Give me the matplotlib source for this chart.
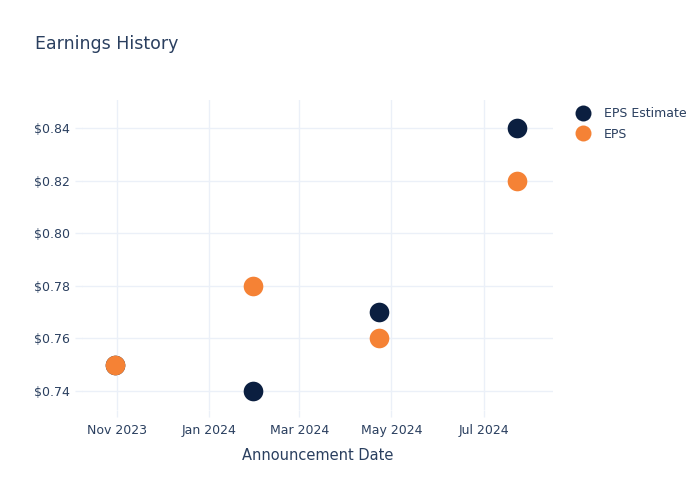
import matplotlib
matplotlib.use("Agg")
import matplotlib.pyplot as plt
import matplotlib.dates as mdates
from matplotlib.ticker import FuncFormatter
from matplotlib.lines import Line2D
import datetime as dt

dates = ["2023-10-31", "2024-01-30", "2024-04-23", "2024-07-23"]
eps_estimate = [0.75, 0.74, 0.77, 0.84]
eps_actual = [0.75, 0.78, 0.76, 0.82]
series_names = ["EPS Estimate", "EPS"]

x = [dt.datetime.strptime(d, "%Y-%m-%d") for d in dates]

TXT = "#2a3f5f"
GRID = "#ebf0f8"
NAVY = "#0b1f40"
ORANGE = "#f58235"

plt.rcParams['font.family'] = ['DejaVu Sans']
fig = plt.figure(figsize=(7, 5), dpi=100)
ax = fig.add_axes([82/700, 90/500, (553-82)/700, (410-100)/500])

ax.scatter(x, eps_estimate, s=200, color=NAVY, label=series_names[0], zorder=3, linewidths=0)
ax.scatter(x, eps_actual, s=200, color=ORANGE, label=series_names[1], zorder=4, linewidths=0)

ax.set_xlim(dt.datetime(2023, 10, 9), dt.datetime(2024, 8, 16))
ax.set_ylim(0.7328, 0.8506)

ax.xaxis.set_major_locator(mdates.MonthLocator(bymonth=[1, 3, 5, 7, 9, 11]))
ax.xaxis.set_major_formatter(mdates.DateFormatter("%b %Y"))
ax.set_yticks([0.74, 0.76, 0.78, 0.80, 0.82, 0.84])
ax.yaxis.set_major_formatter(FuncFormatter(lambda v, p: f"${v:.2f}"))

for s in ax.spines.values():
    s.set_visible(False)
ax.grid(True, color=GRID, linewidth=1)
ax.set_axisbelow(True)
ax.tick_params(axis='both', colors=GRID, labelcolor=TXT, labelsize=9, length=5, width=1)
ax.tick_params(axis='x', pad=5)

ax.set_xlabel("Announcement Date", color=TXT, fontsize=10.5, labelpad=8)
fig.text(35/700, 1 - 44/500, "Earnings History", color=TXT, fontsize=12.5, va='center', ha='left')

handles = [Line2D([], [], marker='o', linestyle='none', markersize=11.5, color=NAVY, markeredgewidth=0),
           Line2D([], [], marker='o', linestyle='none', markersize=11.5, color=ORANGE, markeredgewidth=0)]
leg = fig.legend(handles, series_names, loc='upper left', bbox_to_anchor=(574/700, 1 - 107/500),
                 frameon=False, fontsize=9, labelcolor=TXT, handletextpad=0.9, borderaxespad=0,
                 borderpad=0, labelspacing=0.6, handlelength=1.5)

fig.savefig("out.png", dpi=100, facecolor="white")
